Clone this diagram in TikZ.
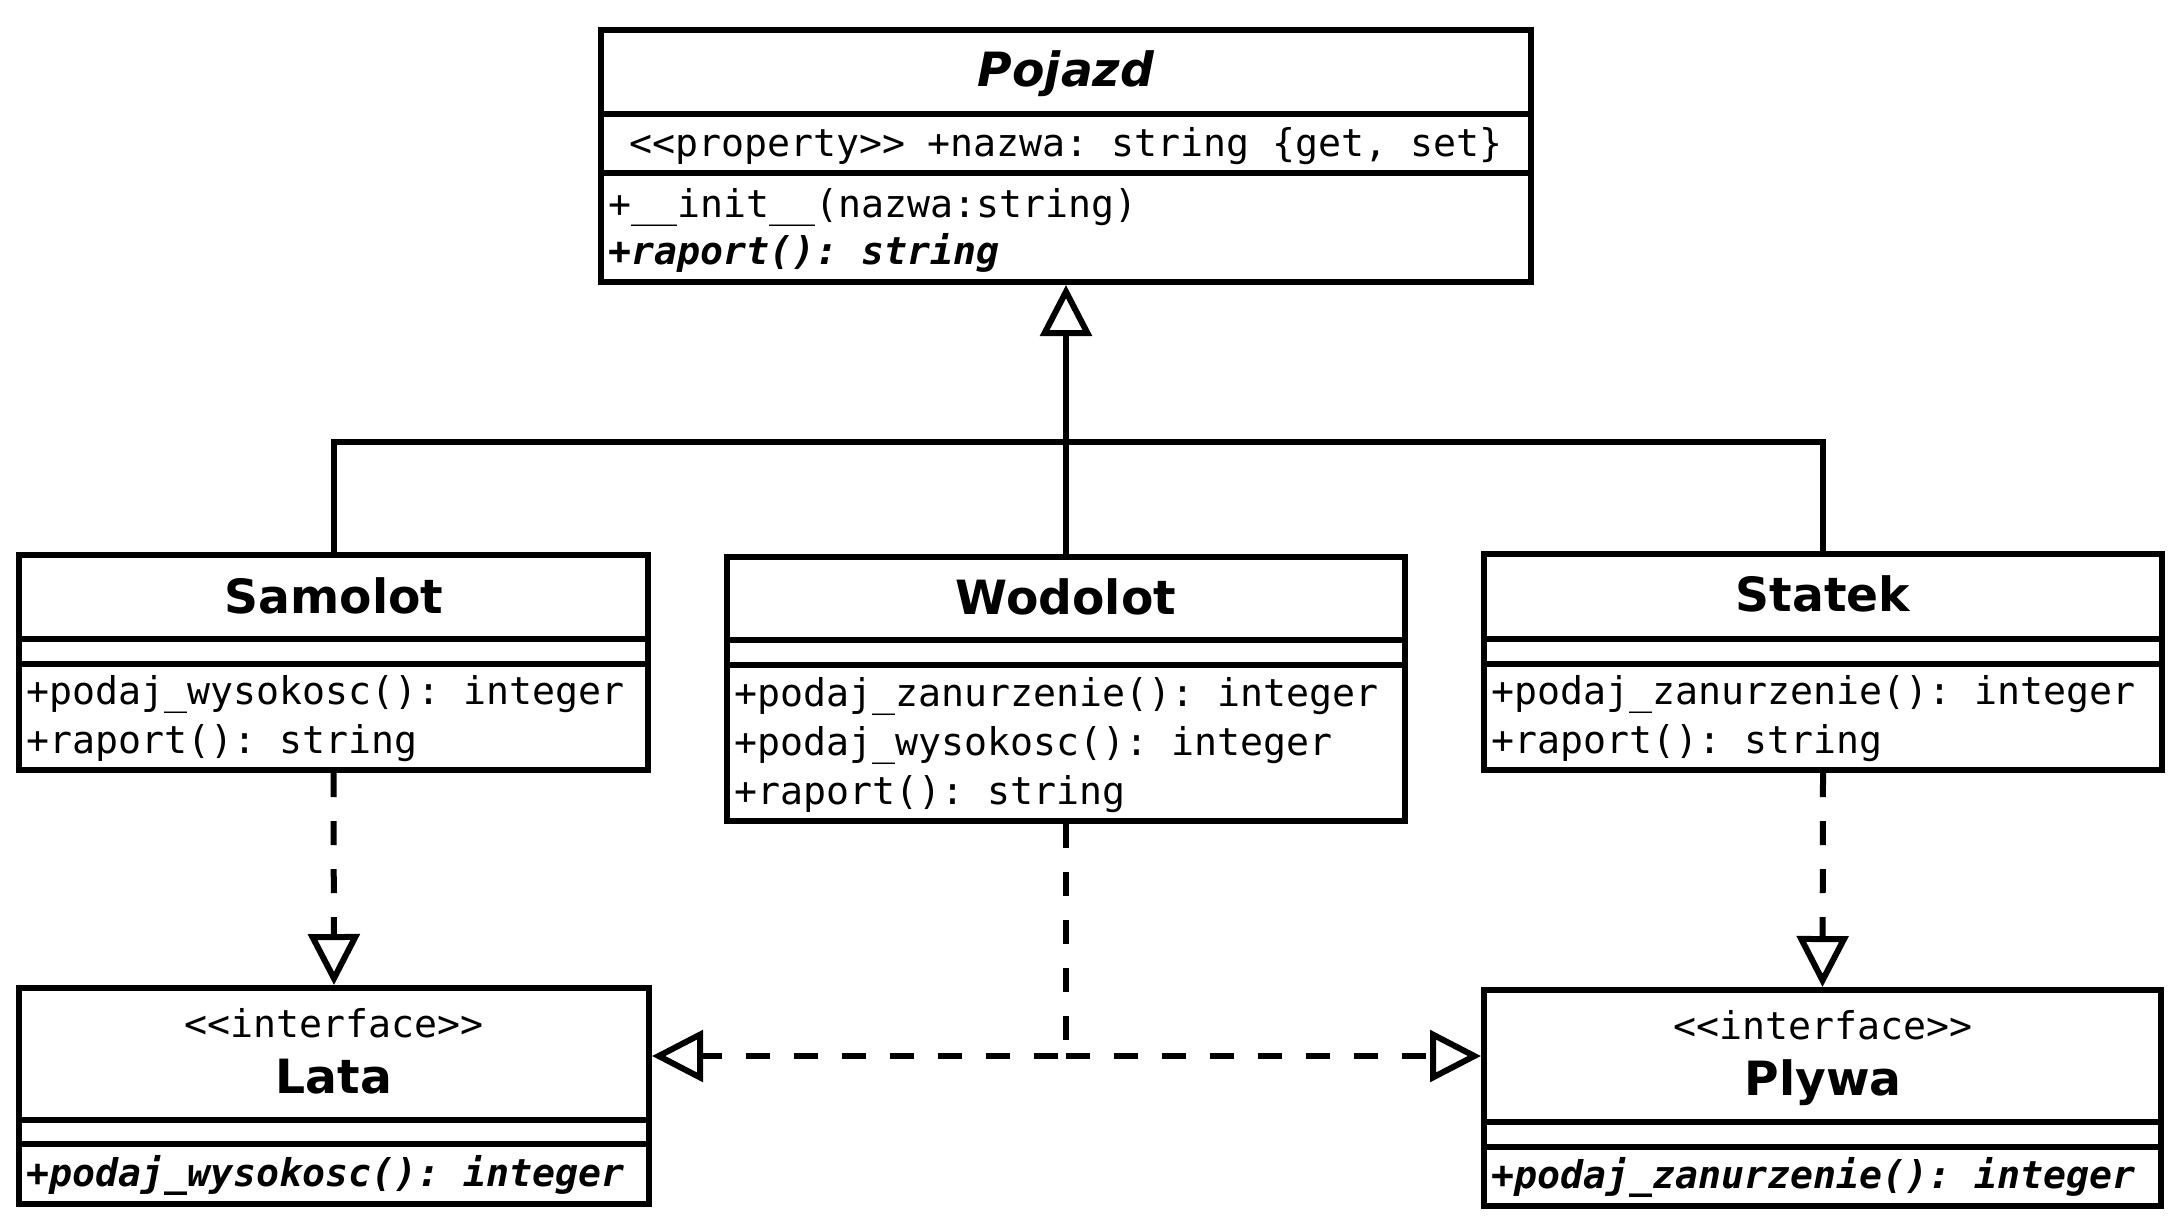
\documentclass[tikz,border=0pt]{standalone}
\usepackage{fontspec}
\setmainfont{DejaVu Sans}
\setsansfont{DejaVu Sans}
\setmonofont{DejaVu Sans Mono}
\usetikzlibrary{arrows.meta,calc}
\begin{document}
\begin{tikzpicture}[x=0.5pt,y=-0.5pt,
  box/.style={draw,line width=3pt,rectangle,inner sep=0pt,anchor=center},
  sep/.style={line width=3pt},
  mem/.style={anchor=base west,inner sep=0pt,font=\fontsize{19.1}{24}\selectfont\ttfamily},
  stereo/.style={anchor=base,inner sep=0pt,font=\fontsize{19.1}{24}\selectfont\ttfamily},
  cname/.style={anchor=base,inner sep=0pt,font=\fontsize{23.6}{28}\selectfont\sffamily\bfseries},
  inh/.style={line width=3pt,-{Triangle[open,length=25.5pt,width=25.5pt]},line join=miter},
  real/.style={inh,dash pattern=on 12pt off 12pt}]
\path[fill=white,use as bounding box] (0,0) rectangle (2172,1223);

% Pojazd: x 601-1531, y 30-282
\node[box,minimum width=465pt,minimum height=126pt] (pojazd) at (1066,156) {};
\draw[sep] ($(pojazd.north west)+(3,87)$) -- ($(pojazd.north east)+(-3,87)$);
\draw[sep] ($(pojazd.north west)+(3,146)$) -- ($(pojazd.north east)+(-3,146)$);
\node[cname,font=\fontsize{23.6}{28}\selectfont\sffamily\bfseries\itshape] (pojazdT) at (1066,86) {Pojazd};
\node[stereo] (pojazdP) at (1066,156) {<{}<property>{}> +nazwa: string \{get, set\}};
\node[mem] (pojazdM1) at (608,217) {+\_\_init\_\_(nazwa:string)};
\node[mem,font=\fontsize{19.1}{24}\selectfont\ttfamily\bfseries\itshape] (pojazdM2) at (608,264) {+raport(): string};

% Samolot: x 19-648, y 555-770
\node[box,minimum width=314.5pt,minimum height=107.5pt] (samolot) at (333.5,662.5) {};
\draw[sep] ($(samolot.north west)+(3,87)$) -- ($(samolot.north east)+(-3,87)$);
\draw[sep] ($(samolot.north west)+(3,112)$) -- ($(samolot.north east)+(-3,112)$);
\node[cname] (samolotT) at (334,613) {Samolot};
\node[mem] (samolotM1) at (26,704) {+podaj\_wysokosc(): integer};
\node[mem] (samolotM2) at (26,753) {+raport(): string};

% Wodolot: x 727-1405, y 557-821
\node[box,minimum width=339pt,minimum height=132pt] (wodolot) at (1066,689) {};
\draw[sep] ($(wodolot.north west)+(3,86)$) -- ($(wodolot.north east)+(-3,86)$);
\draw[sep] ($(wodolot.north west)+(3,111)$) -- ($(wodolot.north east)+(-3,111)$);
\node[cname] (wodolotT) at (1066,614) {Wodolot};
\node[mem] (wodolotM1) at (734,706) {+podaj\_zanurzenie(): integer};
\node[mem] (wodolotM2) at (734,755) {+podaj\_wysokosc(): integer};
\node[mem] (wodolotM3) at (734,804) {+raport(): string};

% Statek: x 1484-2162, y 554-770
\node[box,minimum width=339pt,minimum height=108pt] (statek) at (1823,662) {};
\draw[sep] ($(statek.north west)+(3,88)$) -- ($(statek.north east)+(-3,88)$);
\draw[sep] ($(statek.north west)+(3,113)$) -- ($(statek.north east)+(-3,113)$);
\node[cname] (statekT) at (1823,611) {Statek};
\node[mem] (statekM1) at (1491,704) {+podaj\_zanurzenie(): integer};
\node[mem] (statekM2) at (1491,753) {+raport(): string};

% Lata: x 19-649, y 988-1204
\node[box,minimum width=315pt,minimum height=108pt] (lata) at (334,1096) {};
\draw[sep] ($(lata.north west)+(3,135)$) -- ($(lata.north east)+(-3,135)$);
\draw[sep] ($(lata.north west)+(3,159)$) -- ($(lata.north east)+(-3,159)$);
\node[stereo] (lataS) at (334,1037) {<{}<interface>{}>};
\node[cname] (lataT) at (334,1093) {Lata};
\node[mem,font=\fontsize{19.1}{24}\selectfont\ttfamily\bfseries\itshape] (lataM1) at (26,1186) {+podaj\_wysokosc(): integer};

% Plywa: x 1484-2161, y 990-1206
\node[box,minimum width=338.5pt,minimum height=108pt] (plywa) at (1822.5,1098) {};
\draw[sep] ($(plywa.north west)+(3,135)$) -- ($(plywa.north east)+(-3,135)$);
\draw[sep] ($(plywa.north west)+(3,160)$) -- ($(plywa.north east)+(-3,160)$);
\node[stereo] (plywaS) at (1823,1039) {<{}<interface>{}>};
\node[cname] (plywaT) at (1823,1095) {Plywa};
\node[mem,font=\fontsize{19.1}{24}\selectfont\ttfamily\bfseries\itshape] (plywaM1) at (1491,1188) {+podaj\_zanurzenie(): integer};

% inheritance
\coordinate (bus) at (1066,442);
\draw[line width=3pt] (samolot.north) |- (bus);
\draw[line width=3pt] (statek.north) |- (bus);
\draw[line width=3pt] (wodolot.north) -- (bus);
\draw[inh] (bus) -- (pojazd.south);

% realization
\draw[real] (samolot.south) -- (lata.north);
\draw[real] (statek.south) -- (plywa.north);
\coordinate (junc) at (1066,1056);
\draw[real] (wodolot.south) -- (junc) -- (junc -| lata.east);
\draw[real] (junc) -- (junc -| plywa.west);
\end{tikzpicture}
\end{document}
